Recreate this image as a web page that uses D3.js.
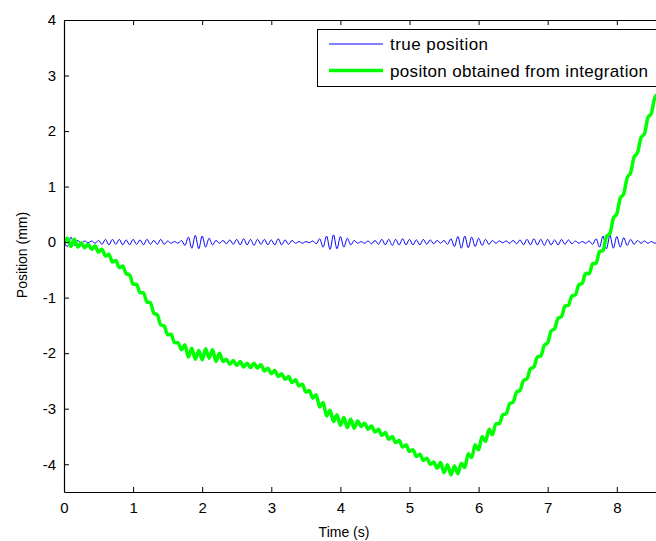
<!DOCTYPE html>
<html>
<head>
<meta charset="utf-8">
<script src="https://cdn.jsdelivr.net/npm/d3@7"></script>
<style>
  body { margin: 0; background: #fff; }
  svg { display: block; overflow: hidden; }
  text { font-family: "Liberation Sans", Arial, sans-serif; }
</style>
</head>
<body>
<svg id="chart1"></svg>
<script>
// sample step of the recorded signals (s)
var dt = 0.05;

var truePosition = [
  0.00, -0.08, 0.09, -0.06, 0.03, -0.02, 0.02, -0.01, 0.02, -0.02,
  0.03, -0.04, 0.05, -0.05, 0.05, -0.04, 0.05, -0.05, 0.04, -0.05,
  0.05, -0.04, 0.04, -0.05, 0.05, -0.04, 0.03, -0.04, 0.05, -0.04,
  0.02, -0.02, 0.01, -0.02, 0.03, -0.06, 0.09, -0.11, 0.12, -0.12,
  0.11, -0.09, 0.07, -0.05, 0.03, -0.02, 0.03, -0.03, 0.04, -0.04,
  0.05, -0.05, 0.06, -0.05, 0.05, -0.06, 0.05, -0.04, 0.05, -0.05,
  0.04, -0.05, 0.06, -0.05, 0.04, -0.04, 0.03, -0.02, 0.01, -0.02,
  0.01, -0.01, 0.02, -0.03, 0.06, -0.09, 0.11, -0.13, 0.13, -0.12,
  0.10, -0.09, 0.07, -0.05, 0.03, -0.02, 0.01, -0.02, 0.02, -0.03,
  0.03, -0.04, 0.05, -0.05, 0.05, -0.06, 0.05, -0.05, 0.06, -0.05,
  0.05, -0.05, 0.04, -0.05, 0.05, -0.04, 0.04, -0.03, 0.03, -0.02,
  0.03, -0.04, 0.06, -0.08, 0.10, -0.11, 0.11, -0.10, 0.09, -0.08,
  0.07, -0.06, 0.05, -0.04, 0.03, -0.02, 0.02, -0.01, 0.02, -0.02,
  0.03, -0.03, 0.04, -0.05, 0.05, -0.05, 0.06, -0.05, 0.05, -0.06,
  0.05, -0.05, 0.04, -0.05, 0.05, -0.04, 0.04, -0.03, 0.02, -0.02,
  0.01, -0.02, 0.02, -0.04, 0.06, -0.09, 0.11, -0.12, 0.12, -0.11,
  0.10, -0.09, 0.08, -0.06, 0.05, -0.04, 0.03, -0.02, 0.02, -0.02,
  0.01, -0.02, 0.02
];

var integratedPosition = [
  -0.02, 0.07, -0.08, 0.05, -0.09, -0.01, -0.10, -0.04, -0.13, -0.07,
  -0.18, -0.13, -0.25, -0.22, -0.36, -0.33, -0.46, -0.43, -0.57, -0.59,
  -0.76, -0.76, -0.91, -0.91, -1.08, -1.09, -1.28, -1.31, -1.49, -1.51,
  -1.67, -1.66, -1.81, -1.81, -1.94, -1.85, -2.07, -1.91, -2.11, -1.95,
  -2.12, -1.92, -2.09, -1.94, -2.15, -2.00, -2.15, -2.11, -2.20, -2.13,
  -2.22, -2.15, -2.25, -2.18, -2.26, -2.18, -2.27, -2.21, -2.32, -2.27,
  -2.37, -2.31, -2.42, -2.37, -2.47, -2.42, -2.53, -2.48, -2.59, -2.56,
  -2.70, -2.67, -2.81, -2.75, -2.97, -2.89, -3.13, -3.03, -3.23, -3.11,
  -3.30, -3.16, -3.34, -3.19, -3.35, -3.22, -3.32, -3.26, -3.37, -3.31,
  -3.42, -3.37, -3.48, -3.43, -3.55, -3.50, -3.61, -3.57, -3.69, -3.65,
  -3.77, -3.74, -3.86, -3.82, -3.93, -3.89, -4.00, -3.96, -4.07, -3.97,
  -4.15, -4.01, -4.19, -4.03, -4.17, -3.98, -4.06, -3.81, -3.88, -3.65,
  -3.74, -3.50, -3.59, -3.37, -3.47, -3.27, -3.27, -3.11, -3.09, -2.91,
  -2.88, -2.70, -2.67, -2.49, -2.46, -2.28, -2.25, -2.07, -2.05, -1.86,
  -1.81, -1.60, -1.56, -1.37, -1.34, -1.15, -1.14, -0.97, -0.95, -0.77,
  -0.74, -0.56, -0.57, -0.39, -0.38, -0.17, -0.15, 0.10, 0.15, 0.43,
  0.51, 0.79, 0.87, 1.16, 1.25, 1.53, 1.61, 1.88, 1.95, 2.24,
  2.32, 2.60, 2.67
];

var xTicks = [0, 1, 2, 3, 4, 5, 6, 7, 8];
var yTicks = [-4, -3, -2, -1, 0, 1, 2, 3, 4];
var legendLabels = ["true position", "positon obtained from integration"];

var W = 656, H = 541;
var plotLeft = 64, plotTop = 20, plotBottom = 492, plotRight = 64 + 9 * 69.1;

var svg = d3.select("#chart1").attr("width", W).attr("height", H);

var x = d3.scaleLinear().domain([0, 9]).range([plotLeft, plotRight]);
var y = d3.scaleLinear().domain([-4.5, 4]).range([plotBottom, plotTop]);

var time = truePosition.map(function (d, i) { return i * dt; });

svg.append("clipPath").attr("id", "clip")
  .append("rect")
  .attr("x", plotLeft).attr("y", plotTop)
  .attr("width", plotRight - plotLeft).attr("height", plotBottom - plotTop);

var line = d3.line()
  .x(function (d, i) { return x(time[i]); })
  .y(function (d) { return y(d); })
  .curve(d3.curveMonotoneX);

var plot = svg.append("g").attr("clip-path", "url(#clip)");

plot.append("path")
  .datum(truePosition)
  .attr("fill", "none")
  .attr("stroke", "#0000ff")
  .attr("stroke-width", 1)
  .attr("d", line);

plot.append("path")
  .datum(integratedPosition)
  .attr("fill", "none")
  .attr("stroke", "#00ff00")
  .attr("stroke-width", 3.5)
  .attr("stroke-linejoin", "round")
  .attr("d", line);

// axes, matlab style: ticks inside, mirrored on top and right
var asText = function (d) { return String(d); };
var xAxis = d3.axisBottom(x).tickValues(xTicks).tickSizeInner(-5).tickSizeOuter(0).tickPadding(10)
  .tickFormat(asText);
var yAxis = d3.axisLeft(y).tickValues(yTicks).tickSizeInner(-5).tickSizeOuter(0).tickPadding(8)
  .tickFormat(asText);

var gx = svg.append("g").attr("transform", "translate(0," + plotBottom + ")").call(xAxis);
var gy = svg.append("g").attr("transform", "translate(" + plotLeft + ",0)").call(yAxis);
var gTop = svg.append("g").attr("transform", "translate(0," + plotTop + ")")
  .call(d3.axisTop(x).tickValues(xTicks).tickSizeInner(-5).tickSizeOuter(0).tickFormat(""));
var gRight = svg.append("g").attr("transform", "translate(" + plotRight + ",0)")
  .call(d3.axisRight(y).tickValues(yTicks).tickSizeInner(-5).tickSizeOuter(0).tickFormat(""));

[gx, gy, gTop, gRight].forEach(function (g) {
  g.select(".domain").attr("stroke", "#000").attr("stroke-width", 1.2);
  g.selectAll(".tick line").attr("stroke", "#000");
  g.selectAll("text")
    .attr("font-family", "Liberation Sans, Arial, sans-serif")
    .attr("font-size", "15px")
    .attr("fill", "#000");
});

svg.append("text")
  .attr("x", 344)
  .attr("y", 537)
  .attr("text-anchor", "middle")
  .attr("font-size", "14px")
  .text("Time (s)");

svg.append("text")
  .attr("x", -255)
  .attr("y", 27)
  .attr("text-anchor", "middle")
  .attr("font-size", "14px")
  .attr("transform", "rotate(-90)")
  .text("Position (mm)");

// legend
var legend = svg.append("g");
legend.append("rect")
  .attr("x", 317.5).attr("y", 29.5)
  .attr("width", 360).attr("height", 57)
  .attr("fill", "#fff").attr("stroke", "#000").attr("stroke-width", 1);

var legendColors = ["#0000ff", "#00ff00"];
var legendWidths = [1, 3.5];
var legendTextWidths = [98, 258];
legendLabels.forEach(function (label, i) {
  var ly = 44 + i * 26.5;
  legend.append("line")
    .attr("x1", 329).attr("x2", 383)
    .attr("y1", ly).attr("y2", ly)
    .attr("stroke", legendColors[i])
    .attr("stroke-width", legendWidths[i]);
  legend.append("text")
    .attr("x", 390)
    .attr("y", ly + 6)
    .attr("font-size", "17px")
    .attr("textLength", legendTextWidths[i])
    .attr("lengthAdjust", "spacing")
    .text(label);
});
</script>
</body>
</html>
